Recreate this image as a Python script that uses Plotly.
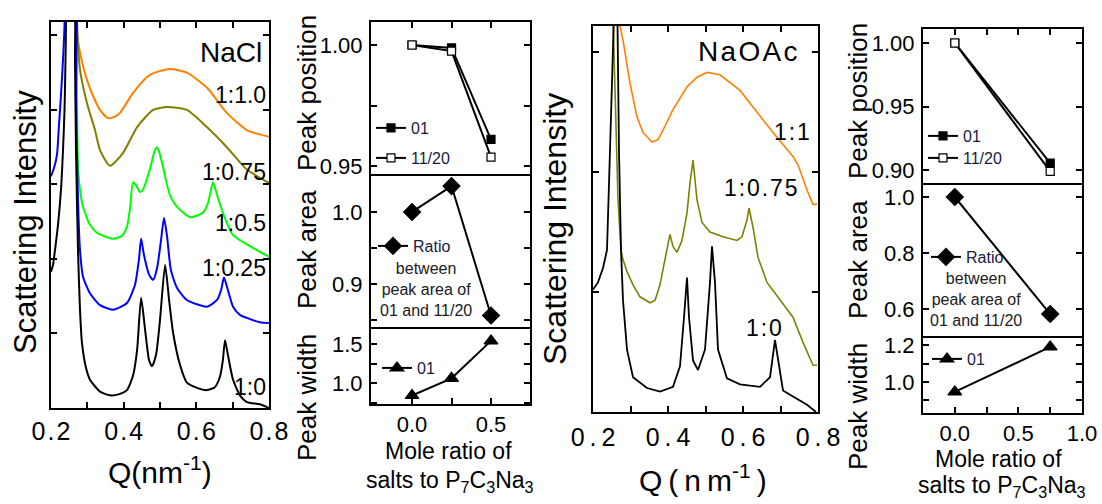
import plotly.graph_objects as go

FONT = "Liberation Sans, Arial, sans-serif"
W, H = 1102, 504

# ---------------- NaCl SAXS curves (Q in nm^-1, offset intensity, a.u.) ----------------
nacl_q_10 = [0.200, 0.2055, 0.211, 0.2193, 0.2275, 0.233, 0.2372, 0.2399, 0.2413, 0.244, 0.2606, 0.2661, 0.2688,
             0.2743, 0.2798, 0.2853, 0.2963, 0.3073, 0.335, 0.362, 0.390, 0.409, 0.426, 0.437, 0.448, 0.459, 0.470,
             0.478, 0.489, 0.500, 0.514, 0.525, 0.536, 0.555, 0.574, 0.602, 0.629, 0.651, 0.665, 0.673, 0.679, 0.687,
             0.701, 0.720, 0.739, 0.775, 0.800]
nacl_i_10 = [1.83, 1.92, 2.12, 2.46, 2.93, 3.46, 4.00, 4.67, 5.18, 6.50, 6.50, 4.67, 3.46, 2.12, 1.32, 0.87, 0.54,
             0.38, 0.22, 0.17, 0.19, 0.24, 0.44, 0.78, 1.48, 1.05, 0.64, 0.56, 0.71, 1.18, 1.92, 1.45, 1.01, 0.58,
             0.34, 0.27, 0.24, 0.28, 0.42, 0.64, 0.91, 0.71, 0.38, 0.17, 0.08, 0.05, 0.00]

nacl_q_025 = [0.200, 0.2083, 0.2165, 0.222, 0.2275, 0.233, 0.2372, 0.2399, 0.2633, 0.2688, 0.2743, 0.2798, 0.2881,
              0.3073, 0.335, 0.371, 0.409, 0.431, 0.442, 0.448, 0.456, 0.470, 0.481, 0.492, 0.503, 0.511, 0.519,
              0.530, 0.547, 0.574, 0.629, 0.657, 0.668, 0.676, 0.687, 0.701, 0.720, 0.739, 0.775, 0.800]
nacl_i_025 = [3.11, 3.22, 3.40, 3.80, 4.20, 4.67, 5.14, 6.50, 6.50, 4.13, 2.79, 2.12, 1.76, 1.54, 1.38, 1.32, 1.41,
              1.65, 1.99, 2.27, 2.05, 1.79, 1.72, 1.88, 2.26, 2.55, 2.32, 1.85, 1.61, 1.45, 1.36, 1.45, 1.58, 1.75,
              1.58, 1.36, 1.25, 1.21, 1.15, 1.14]

nacl_q_05 = [0.2661, 0.2716, 0.2743, 0.2798, 0.2881, 0.3073, 0.327, 0.371, 0.395, 0.409, 0.417, 0.426, 0.434, 0.445,
             0.453, 0.472, 0.486, 0.492, 0.500, 0.508, 0.527, 0.547, 0.583, 0.618, 0.632, 0.646, 0.657, 0.673, 0.701,
             0.756, 0.800]
nacl_i_05 = [6.50, 4.13, 3.24, 2.93, 2.70, 2.46, 2.35, 2.27, 2.31, 2.43, 2.66, 3.03, 2.99, 2.90, 2.93, 3.20, 3.46,
             3.50, 3.40, 3.24, 2.86, 2.70, 2.56, 2.62, 2.75, 3.03, 2.86, 2.62, 2.32, 2.15, 2.03]

nacl_q_075 = [0.2661, 0.2716, 0.2798, 0.2991, 0.3211, 0.3349, 0.3624, 0.398, 0.437, 0.481, 0.519, 0.574, 0.629,
              0.684, 0.739, 0.800]
nacl_i_075 = [6.50, 5.18, 4.54, 4.09, 3.73, 3.46, 3.25, 3.42, 3.77, 4.00, 4.04, 4.00, 3.77, 3.50, 3.20, 3.02]

nacl_q_1 = [0.2633, 0.2661, 0.2716, 0.2798, 0.2991, 0.3211, 0.3349, 0.3569, 0.3762, 0.390, 0.426, 0.472, 0.527,
            0.574, 0.629, 0.684, 0.739, 0.800]
nacl_i_1 = [6.50, 5.18, 5.01, 4.77, 4.40, 4.13, 4.00, 3.89, 3.91, 3.96, 4.23, 4.47, 4.55, 4.50, 4.30, 3.96, 3.73, 3.64]

# ---------------- NaOAc SAXS curves ----------------
naoac_q_10 = [0.200, 0.2133, 0.2267, 0.2373, 0.2453, 0.2533, 0.2587, 0.264, 0.2693, 0.2747, 0.280, 0.2907, 0.3067,
              0.344, 0.3787, 0.4133, 0.432, 0.4427, 0.4507, 0.456, 0.4667, 0.480, 0.4987, 0.512, 0.5173, 0.5253,
              0.5333, 0.5573, 0.592, 0.6453, 0.672, 0.6853, 0.6933, 0.7067, 0.7333, 0.7707, 0.7947]
naoac_i_10 = [1.02, 1.08, 1.20, 1.35, 2.18, 3.02, 3.60, 3.60, 2.18, 1.35, 0.93, 0.52, 0.29, 0.20, 0.17, 0.21, 0.38,
              0.79, 1.12, 0.79, 0.43, 0.35, 0.52, 1.08, 1.38, 1.08, 0.52, 0.28, 0.23, 0.21, 0.29, 0.60, 0.43, 0.18,
              0.13, 0.06, 0.00]

naoac_q_075 = [0.2507, 0.2587, 0.2667, 0.2747, 0.280, 0.2907, 0.3067, 0.3253, 0.352, 0.3653, 0.3787, 0.3893, 0.3973,
               0.4053, 0.4133, 0.424, 0.4373, 0.4507, 0.4587, 0.4667, 0.4773, 0.4907, 0.512, 0.5467, 0.584, 0.5973,
               0.6107, 0.616, 0.6267, 0.640, 0.664, 0.6987, 0.7333, 0.760, 0.7867, 0.7973]
naoac_i_075 = [3.60, 2.60, 1.77, 1.35, 1.27, 1.17, 1.06, 0.96, 0.91, 0.93, 1.06, 1.23, 1.35, 1.48, 1.38, 1.33, 1.43,
               1.66, 1.91, 2.10, 1.77, 1.58, 1.50, 1.46, 1.43, 1.46, 1.60, 1.70, 1.54, 1.29, 1.08, 0.93, 0.79, 0.58,
               0.39, 0.39]

naoac_q_1 = [0.2693, 0.272, 0.280, 0.2987, 0.3173, 0.3333, 0.3573, 0.3733, 0.3867, 0.4133, 0.4507, 0.4773, 0.504,
             0.5387, 0.592, 0.6267, 0.680, 0.7333, 0.7467, 0.7707, 0.7867, 0.7973]
naoac_i_1 = [3.60, 3.22, 3.10, 2.74, 2.46, 2.33, 2.25, 2.27, 2.35, 2.52, 2.71, 2.79, 2.83, 2.81, 2.68, 2.54, 2.33,
             2.13, 2.06, 1.85, 1.73, 1.73]

# ---------------- peak analysis vs mole ratio ----------------
nacl_ratio = [0.0, 0.25, 0.5]
nacl_pos_01 = [1.000, 0.9988, 0.961]
nacl_pos_1120 = [1.000, 0.9975, 0.9537]
nacl_area = [1.000, 1.036, 0.856]
nacl_width = [0.84, 1.06, 1.54]

naoac_ratio = [0.0, 0.75]
naoac_pos_01 = [1.000, 0.9055]
naoac_pos_1120 = [1.000, 0.899]
naoac_area = [1.000, 0.582]
naoac_width = [0.946, 1.19]

TS = "\u2009"
HS = "\u200a"


def spaced(s, sep):
    return sep.join(list(s))


big_ticks = [0.2, 0.3, 0.4, 0.5, 0.6, 0.7, 0.8]
big_ticktext = [spaced("0.2", HS), "", spaced("0.4", HS), "", spaced("0.6", HS), "", spaced("0.8", HS)]
big_ticktext_sp = [spaced("0.2", TS), "", spaced("0.4", TS), "", spaced("0.6", TS), "", spaced("0.8", TS)]

ORANGE = "#ff8000"
OLIVE = "#808000"
GREEN = "#00ff00"
BLUE = "#0000ff"
LEGC = "#1a1a40"


def dom_x(a, b):
    return [a / W, b / W]


def dom_y(top, bottom):
    return [1 - bottom / H, 1 - top / H]


fig = go.Figure()


def curve(q, i, color, xa, ya, width=2, shape="spline"):
    fig.add_trace(go.Scatter(x=q, y=i, mode="lines",
                             line=dict(color=color, width=width, shape=shape, smoothing=0.6),
                             xaxis=xa, yaxis=ya, showlegend=False, hoverinfo="skip"))


# NaCl
curve(nacl_q_1, nacl_i_1, ORANGE, "x", "y")
curve(nacl_q_075, nacl_i_075, OLIVE, "x", "y")
curve(nacl_q_05, nacl_i_05, GREEN, "x", "y")
curve(nacl_q_025, nacl_i_025, BLUE, "x", "y")
curve(nacl_q_10, nacl_i_10, "black", "x", "y")
# NaOAc
curve(naoac_q_1, naoac_i_1, ORANGE, "x5", "y5", 1.6, "linear")
curve(naoac_q_075, naoac_i_075, OLIVE, "x5", "y5", 1.6, "linear")
curve(naoac_q_10, naoac_i_10, "black", "x5", "y5", 1.8, "linear")


def pts(x, y, xa, ya, symbol, size, name, legend, fill="black"):
    fig.add_trace(go.Scatter(x=x, y=y, mode="lines+markers", name=name, legend=legend,
                             line=dict(color="black", width=2),
                             marker=dict(symbol=symbol, size=size, color=fill,
                                         line=dict(color="black", width=1.2)),
                             xaxis=xa, yaxis=ya, showlegend=True, hoverinfo="skip"))


pts(nacl_ratio, nacl_pos_01, "x2", "y2", "square", 8, "01", "legend")
pts(nacl_ratio, nacl_pos_1120, "x2", "y2", "square", 8, "11/20", "legend2", fill="white")
pts(nacl_ratio, nacl_area, "x3", "y3", "diamond", 13, "Ratio", "legend3")
pts(nacl_ratio, nacl_width, "x4", "y4", "triangle-up", 12, "01", "legend4")

pts(naoac_ratio, naoac_pos_01, "x6", "y6", "square", 8, "01", "legend5")
pts(naoac_ratio, naoac_pos_1120, "x6", "y6", "square", 8, "11/20", "legend6", fill="white")
pts(naoac_ratio, naoac_area, "x7", "y7", "diamond", 13, "Ratio", "legend7")
pts(naoac_ratio, naoac_width, "x8", "y8", "triangle-up", 12, "01", "legend8")

base = dict(showline=True, linewidth=2, linecolor="black", showgrid=False, zeroline=False,
            ticks="inside", ticklen=6, tickwidth=1.5, tickcolor="black", fixedrange=True)


def ax(**kw):
    d = dict(base)
    d.update(kw)
    return d


tf_big = dict(family=FONT, size=25, color="black")
tf_small = dict(family=FONT, size=22, color="black")

layout = dict(
    width=W, height=H, margin=dict(l=0, r=0, t=0, b=0, pad=0, autoexpand=False),
    paper_bgcolor="white", plot_bgcolor="white",
    font=dict(family=FONT, color="black"),
    # NaCl big panel
    xaxis=ax(domain=dom_x(51, 269), range=[0.2, 0.8], anchor="y", tickmode="array", tickvals=big_ticks,
             ticktext=big_ticktext, tickfont=tf_big, mirror="allticks", ticklabelstandoff=0),
    yaxis=ax(domain=dom_y(22, 408), range=[0, 5.18], anchor="x", tickmode="array", tickvals=[1, 2, 3, 4, 5],
             showticklabels=False, mirror="allticks"),
    # NaCl small panels
    xaxis2=ax(domain=dom_x(371, 530), range=[-0.26, 0.747], anchor="y2", side="top", tickmode="array",
              tickvals=[0, 0.25, 0.5, 0.75], showticklabels=False, mirror=True),
    yaxis2=ax(domain=dom_y(22, 174), range=[0.9467, 1.0095], anchor="x2", tickmode="array",
              tickvals=[0.95, 0.975, 1.0], ticktext=["0.95", "", "1.00"], tickfont=tf_small, mirror="allticks",
              ticklabelstandoff=2),
    xaxis3=ax(domain=dom_x(371, 530), range=[-0.26, 0.747], anchor="y3", ticks="", showticklabels=False,
              mirror=False),
    yaxis3=ax(domain=dom_y(174, 327), range=[0.840, 1.0528], anchor="x3", tickmode="array",
              tickvals=[0.85, 0.9, 0.95, 1.0], ticktext=["", "0.9", "", "1.0"], tickfont=tf_small,
              mirror="allticks", ticklabelstandoff=2),
    xaxis4=ax(domain=dom_x(371, 530), range=[-0.26, 0.747], anchor="y4", tickmode="array",
              tickvals=[0, 0.25, 0.5, 0.75], ticktext=["0.0", "", "0.5", ""], tickfont=tf_small, mirror=False,
              ticklabelstandoff=0),
    yaxis4=ax(domain=dom_y(327, 404), range=[0.731, 1.718], anchor="x4", tickmode="array",
              tickvals=[0.75, 1.0, 1.25, 1.5], ticktext=["", "1.0", "", "1.5"], tickfont=tf_small,
              mirror="allticks", ticklabelstandoff=2),
    # NaOAc big panel
    xaxis5=ax(domain=dom_x(593, 818), range=[0.2, 0.8], anchor="y5", tickmode="array", tickvals=big_ticks,
              ticktext=big_ticktext_sp, tickfont=tf_big, mirror="allticks", ticklabelstandoff=2),
    yaxis5=ax(domain=dom_y(26, 412), range=[0, 3.217], anchor="x5", tickmode="array", tickvals=[1, 2, 3],
              showticklabels=False, mirror="allticks"),
    # NaOAc small panels
    xaxis6=ax(domain=dom_x(923, 1082), range=[-0.25, 1.0], anchor="y6", side="top", tickmode="array",
              tickvals=[0, 0.25, 0.5, 0.75, 1.0], showticklabels=False, mirror=True),
    yaxis6=ax(domain=dom_y(29, 183), range=[0.8898, 1.011], anchor="x6", tickmode="array",
              tickvals=[0.90, 0.95, 1.00], ticktext=["0.90", "0.95", "1.00"], tickfont=tf_small,
              mirror="allticks", ticklabelstandoff=2),
    xaxis7=ax(domain=dom_x(923, 1082), range=[-0.25, 1.0], anchor="y7", ticks="", showticklabels=False,
              mirror=False),
    yaxis7=ax(domain=dom_y(183, 336), range=[0.5036, 1.05], anchor="x7", tickmode="array",
              tickvals=[0.6, 0.8, 1.0], ticktext=["0.6", "0.8", "1.0"], tickfont=tf_small, mirror="allticks",
              ticklabelstandoff=2),
    xaxis8=ax(domain=dom_x(923, 1082), range=[-0.25, 1.0], anchor="y8", tickmode="array",
              tickvals=[0, 0.25, 0.5, 0.75, 1.0], ticktext=["0.0", "", "0.5", "", "1.0"], tickfont=tf_small,
              mirror=False, ticklabelstandoff=0),
    yaxis8=ax(domain=dom_y(336, 413), range=[0.832, 1.249], anchor="x8", tickmode="array",
              tickvals=[0.9, 1.0, 1.1, 1.2], ticktext=["", "1.0", "", "1.2"], tickfont=tf_small,
              mirror="allticks", ticklabelstandoff=2),
)


def leg(xpx, ypx, size=16):
    return dict(x=xpx / W, y=1 - ypx / H, xanchor="left", yanchor="middle", bgcolor="rgba(0,0,0,0)",
                borderwidth=0, itemwidth=30, font=dict(family=FONT, size=size, color=LEGC))


layout["legend"] = leg(371, 128)
layout["legend2"] = leg(371, 158)
layout["legend3"] = leg(373, 246)
layout["legend4"] = leg(377, 368)
layout["legend5"] = leg(923, 136)
layout["legend6"] = leg(923, 158)
layout["legend7"] = leg(926, 257)
layout["legend8"] = leg(927, 359)

fig.update_layout(**layout)


def ann(text, xpx, ypx, size, xanchor="center", yanchor="middle", angle=0, color="black"):
    fig.add_annotation(text=text, x=xpx / W, y=1 - ypx / H, xref="paper", yref="paper", showarrow=False,
                       font=dict(family=FONT, size=size, color=color), xanchor=xanchor, yanchor=yanchor,
                       textangle=angle)


# axis titles
ann("Scattering Intensity", 25, 222, 31, angle=-90)
ann("Scattering Intensity", 555, 229, 32, angle=-90)
ann("Q(nm<sup>-1</sup>)", 160, 470, 30)
ann("Q" + TS + "(" + TS + "n" + TS + "m<sup>-1</sup>" + TS + ")", 703, 478, 30)

ann("Peak position", 307, 93, 26, angle=-90)
ann("Peak area", 307, 250, 26, angle=-90)
ann("Peak width", 307, 398, 26, angle=-90)
ann("Peak position", 858, 101, 26, angle=-90)
ann("Peak area", 858, 260, 26, angle=-90)
ann("Peak width", 858, 407, 26, angle=-90)

ann("Mole ratio of", 448, 451, 23)
ann("salts to P<sub>7</sub>C<sub>3</sub>Na<sub>3</sub>", 450, 481, 23)
ann("Mole ratio of", 998, 459, 23)
ann("salts to P<sub>7</sub>C<sub>3</sub>Na<sub>3</sub>", 1002, 486, 23)

ann("between<br>peak area of<br>01 and 11/20", 426, 289, 16, color="#202020")
ann("between<br>peak area of<br>01 and 11/20", 976, 299, 16, color="#202020")

# panel and curve labels
ann("NaCl", 264, 53, 28, xanchor="right")
ann("1:1.0", 268, 95, 23, xanchor="right")
ann("1:0.75", 268, 172, 23, xanchor="right")
ann("1:0.5", 268, 223, 23, xanchor="right")
ann("1:0.25", 268, 268, 23, xanchor="right")
ann("1:0", 268, 387, 23, xanchor="right")

ann(spaced("NaOAc", HS), 800, 52, 28, xanchor="right")
ann(spaced("1:1", HS), 812, 132, 23, xanchor="right")
ann(spaced("1:0.75", HS), 800, 188, 23, xanchor="right")
ann(spaced("1:0", HS), 784, 328, 23, xanchor="right")

fig.write_html("out.html", config={"displayModeBar": False},
               post_script="document.body.style.margin='0px';")
